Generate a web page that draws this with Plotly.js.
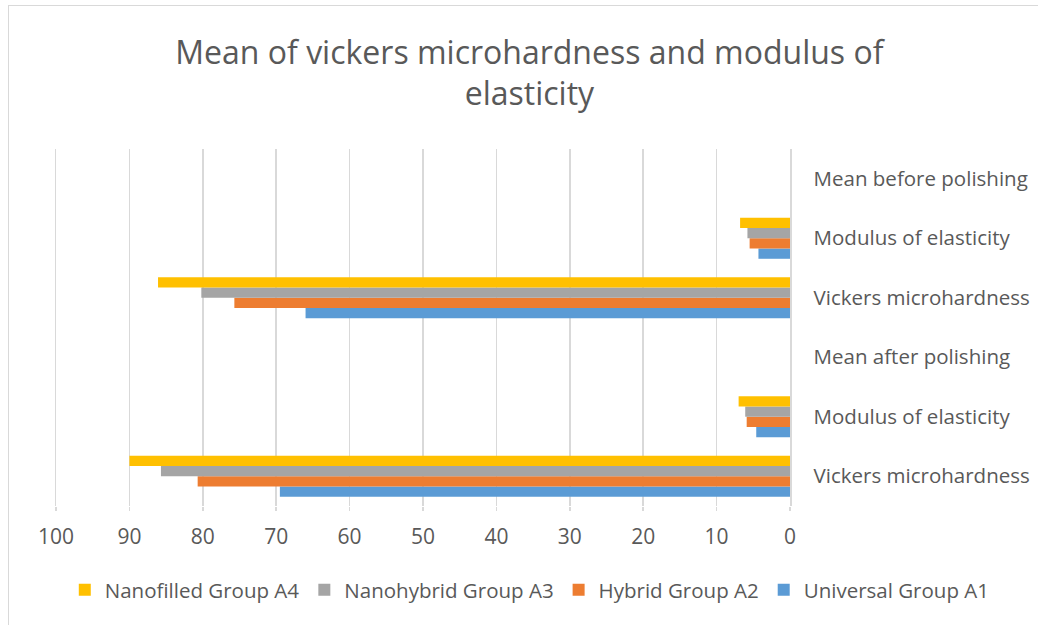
<!DOCTYPE html>
<html>
<head>
<meta charset="utf-8">
<script src="https://cdn.plot.ly/plotly-3.0.1.min.js"></script>
<style>
html,body{margin:0;padding:0;background:#fff;overflow:hidden;}
#chart{width:1038px;height:625px;position:relative;}
#frame{position:absolute;left:8px;top:5px;width:1100px;height:700px;border:1.5px solid #d9d9d9;pointer-events:none;}
</style>
</head>
<body>
<div id="chart"></div>
<div id="frame"></div>
<script>
// Categories from bottom to top
const categories = ["Vickers microhardness", "Modulus of elasticity", "Mean after polishing",
                    "Vickers microhardness", "Modulus of elasticity", "Mean before polishing"];
const positions = [0, 1, 2, 3, 4, 5];
const seriesNames = ["Universal Group A1", "Hybrid Group A2", "Nanohybrid Group A3", "Nanofilled Group A4"];
const universalA1  = [69.5, 4.6, null, 66.0, 4.3, null];
const hybridA2     = [80.7, 5.9, null, 75.7, 5.5, null];
const nanohybridA3 = [85.7, 6.1, null, 80.2, 5.8, null];
const nanofilledA4 = [90.0, 7.0, null, 86.1, 6.8, null];
const xTicks = [100, 90, 80, 70, 60, 50, 40, 30, 20, 10, 0];

const colors = ["#5b9bd5", "#ed7d31", "#a5a5a5", "#ffc000"];
const values = [universalA1, hybridA2, nanohybridA3, nanofilledA4];

const traces = values.map((v, i) => ({
  type: "bar",
  orientation: "h",
  name: seriesNames[i],
  x: v,
  y: positions,
  marker: {color: colors[i], line: {width: 0}},
  hoverinfo: "x+name"
}));

const font = "Open Sans, sans-serif";
const layout = {
  width: 1038, height: 625,
  paper_bgcolor: "#fff", plot_bgcolor: "#fff",
  margin: {l: 56, r: 248, t: 149, b: 119},
  barmode: "group",
  bargap: 0.31,
  bargroupgap: 0,
  font: {family: font, color: "#595959"},
  title: {
    text: "Mean of vickers microhardness and modulus of<br>elasticity",
    font: {family: font, size: 32, color: "#595959"},
    x: 0.51, xref: "container", xanchor: "center",
    y: 0.898, yref: "container", yanchor: "middle"
  },
  xaxis: {
    range: [100, 0],
    tickvals: xTicks,
    ticktext: xTicks.map(String),
    showgrid: true, gridcolor: "#d9d9d9", gridwidth: 1.5,
    zeroline: false,
    ticks: "outside", ticklen: 4, tickcolor: "#d9d9d9", tickwidth: 1.5,
    ticklabelstandoff: 8,
    tickfont: {family: font, size: 21, color: "#595959"},
    showline: false, fixedrange: true
  },
  yaxis: {
    side: "right",
    range: [-0.5, 5.5],
    tickmode: "array",
    tickvals: positions,
    ticktext: categories,
    showgrid: false, zeroline: false,
    showline: true, mirror: true, linecolor: "#d9d9d9", linewidth: 1.5,
    ticks: "",
    ticklabelstandoff: 18,
    tickfont: {family: font, size: 20.5, color: "#595959"},
    fixedrange: true
  },
  showlegend: true,
  legend: {
    orientation: "h",
    traceorder: "reversed",
    x: 1.279, xref: "paper", xanchor: "right",
    y: -0.235, yref: "paper", yanchor: "middle",
    font: {family: font, size: 20.5, color: "#595959"},
    itemwidth: 30
  }
};

Plotly.newPlot("chart", traces, layout, {displayModeBar: false, staticPlot: true});
</script>
</body>
</html>
